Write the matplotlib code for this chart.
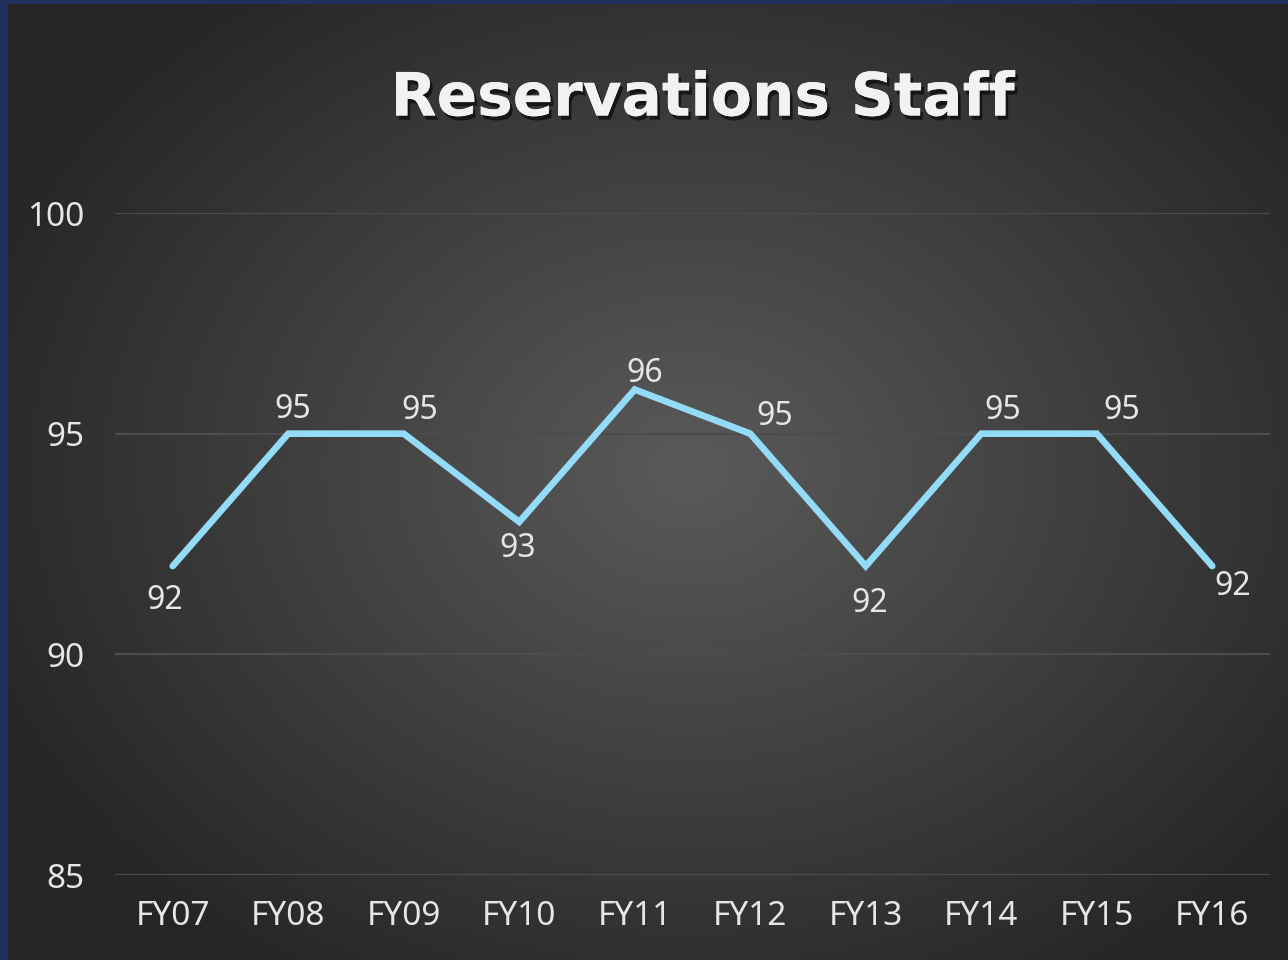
import numpy as np
import matplotlib
matplotlib.use("Agg")
import matplotlib.pyplot as plt
import matplotlib.patheffects as pe

categories = ["FY07", "FY08", "FY09", "FY10", "FY11", "FY12", "FY13", "FY14", "FY15", "FY16"]
values = [92, 95, 95, 93, 96, 95, 92, 95, 95, 92]
yticks = [85, 90, 95, 100]
title = "Reservations Staff"

# label offsets from the point (pixels, dx right, dy up) - styling only
label_offsets_px = [(-8, -34), (5, 24), (16, 23), (-2, -27), (10, 16),
                    (24, 17), (4, -37), (22, 23), (25, 23), (20, -20)]

W, H = 1288, 960
fig = plt.figure(figsize=(W / 100, H / 100), dpi=100)

# background: blue frame + dark radial gradient
bg_ax = fig.add_axes([0, 0, 1, 1], zorder=-10)
bg_ax.set_axis_off()
yy, xx = np.mgrid[0:H, 0:W]
cx, cy = 690, 470
r = np.sqrt(((xx - cx) / 760.0) ** 2 + ((yy - cy) / 600.0) ** 2)
r = np.clip(r, 0, 1)
c_in = np.array([0x5a, 0x5a, 0x5a]) / 255
c_out = np.array([0x26, 0x26, 0x26]) / 255
img = c_in[None, None, :] * (1 - r[..., None]) + c_out[None, None, :] * r[..., None]
blue = np.array([0x22, 0x30, 0x5c]) / 255
img[:, :8, :] = blue
img[:4, :, :] = blue
bg_ax.imshow(img, extent=[0, 1, 0, 1], aspect="auto", origin="upper")

ax = fig.add_axes([115 / W, 1 - 875 / H, (1270 - 115) / W, (875 - 213) / H])
ax.patch.set_alpha(0)
x = np.arange(len(categories))
ax.plot(x, values, color="#94dbf7", lw=4.8, solid_capstyle="round", solid_joinstyle="miter", zorder=3)
ax.set_xlim(-0.5, len(categories) - 0.5)
ax.set_ylim(85, 100)
ax.set_yticks(yticks)
ax.set_xticks(x)
ax.set_xticklabels(categories)
for s in ax.spines.values():
    s.set_visible(False)
ax.grid(axis="y", color="#4c4c4c", lw=1.6)
ax.set_axisbelow(True)
ax.tick_params(length=0, colors="#e6e6e6", labelsize=24)
ax.tick_params(axis="x", pad=18)
ax.tick_params(axis="y", pad=22)
for t in ax.get_xticklabels() + ax.get_yticklabels():
    t.set_fontfamily("Noto Sans")
    t.set_color("#e6e6e6")

for xi, v, (dx, dy) in zip(x, values, label_offsets_px):
    ax.annotate(str(v), (xi, v), xytext=(dx * 0.72, dy * 0.72), textcoords="offset points",
                ha="center", va="center", fontsize=23, color="#e6e6e6", family="Noto Sans")

fig.text(703 / W, 1 - 99 / H, title, ha="center", va="center", fontsize=43,
         fontweight="bold", color="#f2f2f2", family="DejaVu Sans",
         path_effects=[pe.withSimplePatchShadow(offset=(2, -3), shadow_rgbFace="black", alpha=0.6), pe.Normal()])

fig.savefig("out.png", dpi=100)
